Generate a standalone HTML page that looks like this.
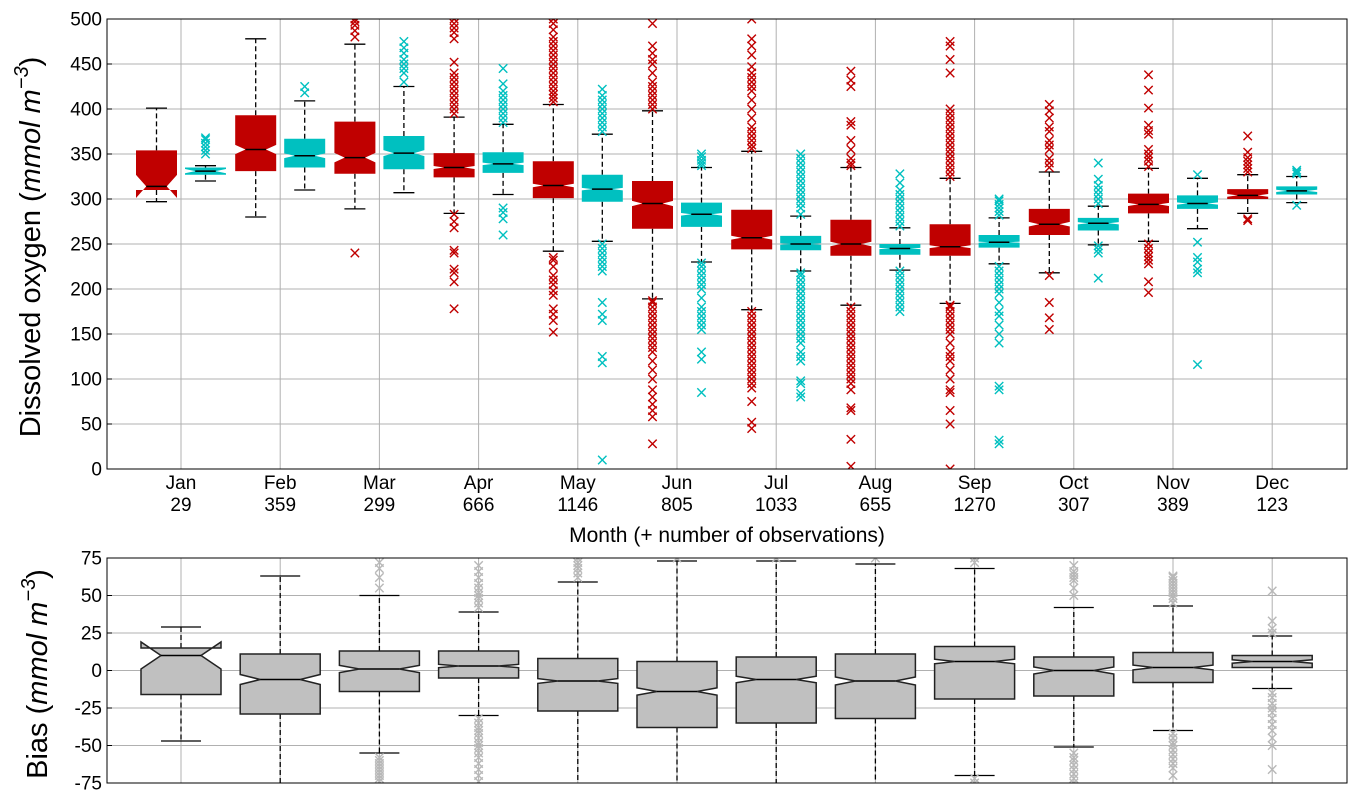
<!DOCTYPE html>
<html><head><meta charset="utf-8">
<style>
html,body{margin:0;padding:0;background:#fff;}
svg{display:block;font-family:"Liberation Sans","DejaVu Sans",sans-serif;}
</style></head>
<body>
<svg id="chart" width="1362" height="804" viewBox="0 0 1362 804" xmlns="http://www.w3.org/2000/svg">
<defs>
<clipPath id="clipTop"><rect x="107" y="19" width="1240" height="450"/></clipPath>
<clipPath id="clipBot"><rect x="107" y="558" width="1240" height="225"/></clipPath>
</defs>
<g id="topGrid"></g>
<g id="topMarks" clip-path="url(#clipTop)"></g>
<g id="botGrid"></g>
<g id="botMarks" clip-path="url(#clipBot)"></g>
<rect x="107" y="19" width="1240" height="450" fill="none" stroke="#000" stroke-width="1"/>
<rect x="107" y="558" width="1240" height="225" fill="none" stroke="#000" stroke-width="1"/>
<g id="labels"></g>
<text x="727" y="542" text-anchor="middle" font-size="21">Month (+ number of observations)</text>
<text transform="translate(40,247) rotate(-90)" text-anchor="middle" font-size="29">Dissolved oxygen (<tspan font-style="italic">mmol m</tspan><tspan font-style="italic" font-size="20" dy="-12">−3</tspan><tspan dy="12">)</tspan></text>
<text transform="translate(47,674) rotate(-90)" text-anchor="middle" font-size="29">Bias (<tspan font-style="italic">mmol m</tspan><tspan font-style="italic" font-size="20" dy="-12">−3</tspan><tspan dy="12">)</tspan></text>
</svg>
<script>
const months=["Jan","Feb","Mar","Apr","May","Jun","Jul","Aug","Sep","Oct","Nov","Dec"];
const counts=[29,359,299,666,1146,805,1033,655,1270,307,389,123];
const topTicks=[0,50,100,150,200,250,300,350,400,450,500];
const botTicks=[-75,-50,-25,0,25,50,75];
// observed (red): [whiskerLow, q1, median, q3, whiskerHigh]
const obsStats=[[297,310,314,354,401],[280,331,355,393,478],[289,328,346,386,472],[284,324,335,351,391],[242,301,315,342,405],[189,267,295,320,398],[177,244,257,288,353],[182,237,250,277,335],[184,237,247,272,323],[218,260,272,289,330],[253,284,294,306,334],[284,300,304,311,327]];
// model (cyan)
const modStats=[[320,327,331,335,337],[310,335,348,367,409],[307,333,351,370,425],[305,329,339,352,383],[253,297,311,327,372],[230,269,283,296,335],[220,243,250,259,281],[221,238,245,250,268],[228,246,252,260,279],[249,265,273,279,292],[267,289,295,304,323],[296,305,309,314,325]];
const obsOut=[[],[],[240,480,487,493,497,500],[178,208,218,222,240,243,268,275,283,395,400,405,410,415,420,425,430,435,440,452,478,485,490,495,500],[152,165,172,178,193,198,205,210,215,225,232,235,408,412,416,420,425,430,435,440,445,450,455,460,465,470,475,480,488,495,500],[28,58,65,72,80,88,100,110,120,130,135,140,145,150,155,160,165,170,175,180,185,187,400,405,410,415,420,425,430,440,450,455,462,470,495],[45,52,75,90,95,100,105,110,115,120,125,130,135,140,145,150,155,160,165,170,175,356,360,365,370,375,380,390,400,410,420,425,430,435,440,447,460,470,478,500],[3,33,65,68,88,95,100,105,110,115,120,125,130,135,140,145,150,155,160,165,170,175,180,337,340,345,355,365,382,386,425,432,442],[0,50,65,85,88,100,110,120,125,130,140,150,155,160,165,170,175,180,182,325,330,335,340,345,350,355,360,365,370,375,380,385,390,395,400,440,455,470,475],[155,168,185,215,335,340,345,355,360,365,375,380,390,398,405],[196,208,228,232,236,240,245,250,336,342,346,350,355,372,376,382,401,421,438],[276,278,330,334,338,342,346,352,370]];
const modOut=[[350,354,358,362,366,368],[418,425],[430,440,445,450,455,462,468,475],[260,278,285,290,385,390,395,400,405,410,415,420,428,445],[10,118,125,165,172,185,220,225,230,235,240,245,250,375,380,385,390,395,400,405,410,415,422],[85,122,130,155,160,165,170,175,180,190,200,205,210,215,220,225,229,337,340,343,347,350],[80,84,95,98,120,125,130,140,145,150,155,160,165,170,175,180,185,190,195,200,205,210,215,218,283,290,295,300,305,310,315,320,325,330,335,340,345,350],[175,180,185,190,195,200,205,210,215,220,270,275,280,285,290,295,300,305,310,318,328],[28,32,88,92,140,150,160,170,175,185,195,200,205,210,215,220,225,282,286,290,294,298,300],[212,240,244,248,295,300,305,310,315,322,340],[116,218,222,230,235,252,327],[293,328,330,332]];
// bias (grey)
const biasStats=[[-47,-16,10,15,29],[-80,-29,-6,11,63],[-55,-14,1,13,50],[-30,-5,3,13,39],[-80,-27,-7,8,59],[-80,-38,-14,6,73],[-80,-35,-6,9,73],[-80,-32,-7,11,71],[-70,-19,6,16,68],[-51,-17,0,9,42],[-40,-8,2,12,43],[-12,2,6,10,23]];
const biasOut=[[],[],[55,62,68,72,-58,-60,-62,-64,-66,-68,-70,-72,-74],[42,45,48,50,52,55,58,62,66,70,-32,-35,-38,-40,-42,-45,-48,-50,-52,-55,-58,-62,-66,-70,-74],[62,65,68,70,72,75],[75],[75],[75],[72,75,-72,-75],[50,55,60,62,64,66,70,-55,-58,-60,-63,-66,-69,-72,-75],[45,48,50,52,54,56,58,60,62,63,-42,-45,-48,-50,-53,-56,-59,-62,-65,-70],[25,28,33,53,-15,-18,-22,-25,-28,-32,-36,-40,-45,-50,-66]];

const NS="http://www.w3.org/2000/svg";
const X0=107,X1=1347;
function xM(i){return 181+i*99.2;}
function yT(v){return 469-(v)*0.9;}
function yB(v){return 670.5-v*1.5;}
function mk(tag,attrs,parent){const e=document.createElementNS(NS,tag);for(const k in attrs)e.setAttribute(k,attrs[k]);parent.appendChild(e);return e;}

const topGrid=document.getElementById('topGrid'),botGrid=document.getElementById('botGrid');
const labels=document.getElementById('labels');
topTicks.forEach(t=>{
  const l=mk('line',{x1:X0,x2:X1,y1:yT(t),y2:yT(t),stroke:'#b0b0b0','stroke-width':1},topGrid);
  
  
  mk('line',{x1:X0,x2:X0+5,y1:yT(t),y2:yT(t),stroke:'#000'},labels);
  const tx=mk('text',{x:102,y:yT(t)+6.5,'text-anchor':'end','font-size':19},labels);
  tx.textContent=t;
  
  
});
botTicks.forEach(t=>{
  const l=mk('line',{x1:X0,x2:X1,y1:yB(t),y2:yB(t),stroke:'#b0b0b0','stroke-width':1},botGrid);
  
  
  mk('line',{x1:X0,x2:X0+5,y1:yB(t),y2:yB(t),stroke:'#000'},labels);
  const tx=mk('text',{x:102,y:yB(t)+6.5,'text-anchor':'end','font-size':19},labels);
  tx.textContent=t;
  
  
});
months.forEach((m,i)=>{
  const x=xM(i);
  const g1=mk('line',{x1:x,x2:x,y1:19,y2:469,stroke:'#b0b0b0'},topGrid);
  
  
  const g2=mk('line',{x1:x,x2:x,y1:558,y2:783,stroke:'#b0b0b0'},botGrid);
  
  
  const t1=mk('text',{x:x,y:489,'text-anchor':'middle','font-size':19},labels);
  t1.textContent=m;
  
  
  const t2=mk('text',{x:x,y:511,'text-anchor':'middle','font-size':19},labels);
  t2.textContent=counts[i];
  
  
});

function drawBox(parent,cx,st,n,yf,w,capW,fill,stroke,outs,outCol,name){
  const [wl,q1,med,q3,wh]=st;
  const nd=1.57*(q3-q1)/Math.sqrt(n);
  const nlo=med-nd,nhi=med+nd;
  const g=mk('g',{},parent);
  
  
  const dash={stroke:'#000','stroke-width':1.3,'stroke-dasharray':'5,3'};
  mk('line',Object.assign({x1:cx,x2:cx,y1:yf(q1),y2:yf(wl)},dash),g);
  mk('line',Object.assign({x1:cx,x2:cx,y1:yf(q3),y2:yf(wh)},dash),g);
  mk('line',{x1:cx-capW/2,x2:cx+capW/2,y1:yf(wl),y2:yf(wl),stroke:'#000','stroke-width':1.3},g);
  mk('line',{x1:cx-capW/2,x2:cx+capW/2,y1:yf(wh),y2:yf(wh),stroke:'#000','stroke-width':1.3},g);
  const L=cx-w/2,R=cx+w/2,cl=cx-w/4,cr=cx+w/4;
  const pts=[[L,q1],[L,nlo],[cl,med],[L,nhi],[L,q3],[R,q3],[R,nhi],[cr,med],[R,nlo],[R,q1]].map(p=>p[0]+','+yf(p[1])).join(' ');
  mk('polygon',{points:pts,fill:fill,stroke:stroke,'stroke-width':stroke==='none'?0:1.5},g);
  mk('line',{x1:cl,x2:cr,y1:yf(med),y2:yf(med),stroke:'#000','stroke-width':1.5},g);
  outs.forEach(v=>{
    const y=yf(v),s=4.2;
    const p=mk('path',{d:`M${cx-s},${y-s}L${cx+s},${y+s}M${cx-s},${y+s}L${cx+s},${y-s}`,stroke:outCol,'stroke-width':1.4,fill:'none'},g);
    
    
  });
}
const topMarks=document.getElementById('topMarks'),botMarks=document.getElementById('botMarks');
months.forEach((m,i)=>{
  drawBox(topMarks,xM(i)-24.5,obsStats[i],counts[i],yT,41,21,'#c00000','none',obsOut[i],'#c00000','observed-box-'+m.toLowerCase());
  drawBox(topMarks,xM(i)+24.5,modStats[i],counts[i],yT,41,21,'#00c0c0','none',modOut[i],'#00c0c0','model-box-'+m.toLowerCase());
  drawBox(botMarks,xM(i),biasStats[i],counts[i],yB,80,40,'#c0c0c0','#222',biasOut[i],'#b8b8b8','bias-box-'+m.toLowerCase());
});
</script>
</body></html>
